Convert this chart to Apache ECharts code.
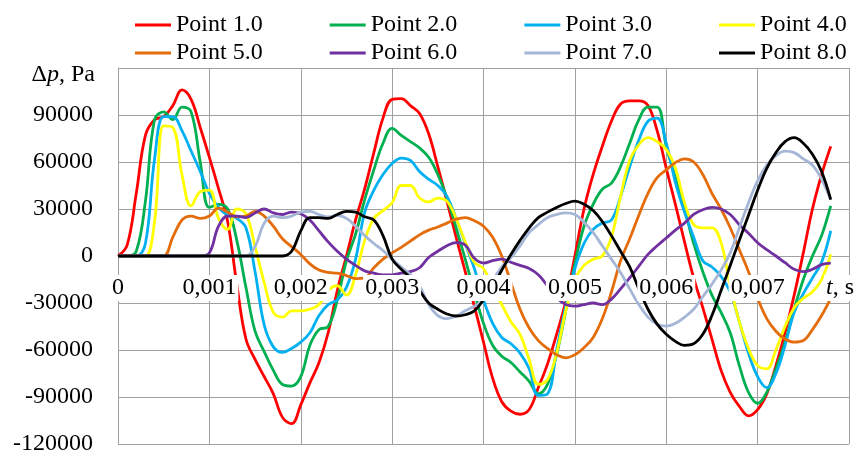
<!DOCTYPE html>
<html><head><meta charset="utf-8">
<script src="https://cdn.jsdelivr.net/npm/echarts@6/dist/echarts.min.js"></script>
<style>html,body{margin:0;padding:0;background:#fff}#c{width:856px;height:453px}</style>
</head><body><div id="c"></div>
<script>
const times = [0,0.0001,0.0002,0.0003,0.0004,0.0005,0.0006,0.0007,0.0008,0.0009,
0.0010,0.0011,0.0012,0.0013,0.0014,0.0015,0.0016,0.0017,0.0018,0.0019,
0.0020,0.0021,0.0022,0.0023,0.0024,0.0025,0.0026,0.0027,0.0028,0.0029,
0.0030,0.0031,0.0032,0.0033,0.0034,0.0035,0.0036,0.0037,0.0038,0.0039,
0.0040,0.0041,0.0042,0.0043,0.0044,0.0045,0.0046,0.0047,0.0048,0.0049,
0.0050,0.0051,0.0052,0.0053,0.0054,0.0055,0.0056,0.0057,0.0058,0.0059,
0.0060,0.0061,0.0062,0.0063,0.0064,0.0065,0.0066,0.0067,0.0068,0.0069,
0.0070,0.0071,0.0072,0.0073,0.0074,0.0075,0.0076,0.0077,0.0078];

const seriesNames = ['Point 1.0','Point 2.0','Point 3.0','Point 4.0','Point 5.0','Point 6.0','Point 7.0','Point 8.0'];

const point1 = [0,7000,40000,77000,87000,89000,96000,106000,100000,82000,
 63000,43000,22000,-18000,-53000,-66000,-77000,-88000,-103000,-107000,
 -95000,-81000,-68000,-49000,-22000,0,23000,43000,66000,88000,
 100000,100500,96000,91000,78000,57000,35000,12000,-10000,-32000,
 -55000,-78000,-93000,-99000,-101000,-98000,-84000,-69000,-50000,-29000,
 0,30000,52000,70000,86000,97000,99000,99000,96000,80000,
 56000,33000,9000,-14000,-33000,-53000,-73000,-87000,-96000,-102000,
 -98000,-88000,-70000,-49000,-25000,2000,30000,52000,70000];

const point2 = [0,0,3000,35000,87000,92000,87000,95000,92000,60000,
 31000,33000,30000,10000,-20000,-48000,-61000,-73000,-82000,-83000,
 -77000,-57000,-47000,-45000,-28000,-3000,14000,36000,55000,72000,
 81500,77000,73000,69000,63000,52000,37000,18000,-2000,-23000,
 -43000,-57000,-64000,-68000,-74000,-80000,-88000,-82000,-63000,-35000,
 -5000,19000,33000,42600,46500,57000,72000,87000,95000,95000,
 70000,50000,30000,8000,-10000,-25000,-36000,-49000,-70000,-87000,
 -94000,-87000,-72000,-55000,-34000,-15000,0,13000,32000];

const point3 = [0,0,0,8000,62000,89000,89000,80000,67000,54000,
 40000,31000,26000,24000,18000,-10000,-44000,-58000,-61500,-59000,
 -55000,-49000,-38000,-31000,-28000,-20000,-2000,28000,42000,52000,
 59000,62500,61000,54000,49000,45000,38000,24000,8000,-8000,
 -28000,-43000,-52000,-56000,-62000,-72000,-89000,-88000,-60000,-32000,
 -8000,8000,17000,21000,23000,38000,57000,74000,86000,88000,
 72000,47000,28000,12000,-3000,-7000,-13000,-23000,-42000,-62000,
 -77000,-84000,-75000,-57000,-36000,-24000,-14000,-4000,16000];

const point4 = [0,0,0,0,22000,83000,82000,52000,32000,41000,
 42000,24000,17000,30000,27000,6000,-17000,-36000,-39000,-35000,
 -35000,-34000,-31000,-22000,-19000,-25000,-12000,10000,24000,29000,
 34000,45000,45000,37000,34500,37000,35000,24000,9000,-4000,
 -8000,-20000,-31000,-42000,-50000,-66000,-82000,-79000,-62000,-35000,
 -15000,-6000,-2000,0,12000,38000,61000,71000,75500,73000,
 68000,56000,34000,20000,18000,18000,8500,-19000,-42000,-59000,
 -70000,-72000,-60000,-45000,-33000,-27000,-23000,-15000,1000];

const point5 = [0,0,0,0,0,0,12000,23000,25500,24000,
 25500,30500,28000,25000,25500,28500,25500,19000,11000,6000,
 1000,-5000,-9000,-10500,-11000,-12500,-14500,-14000,-7500,-2000,
 2000,5500,9500,13500,16500,18500,21000,23500,24500,22500,
 19000,12000,0,-17000,-34000,-46000,-54000,-59000,-63000,-65000,
 -63000,-58500,-52000,-40000,-23000,-3000,11000,26000,40000,50000,
 55000,59600,62000,60000,52000,40000,30000,18000,4000,-10000,
 -27000,-40000,-48000,-53000,-55000,-54000,-47000,-38000,-27000];

const point6 = [0,0,0,0,0,0,0,0,0,0,
 2000,19000,25500,25500,24500,27500,30000,27500,26500,28000,
 27000,23000,16000,9000,3000,-2000,-6000,-9500,-11000,-12000,
 -12000,-11000,-10000,-7500,-1000,3000,6500,8500,7000,-1500,
 -4500,-3000,-2000,-4000,-6000,-8000,-12000,-19000,-26500,-31000,
 -32000,-31000,-30000,-31000,-27500,-21000,-14000,-6500,1000,6500,
 11500,16500,21000,26500,29500,31000,30000,26500,20000,14500,
 8500,4000,0,-4300,-8500,-10000,-8500,-5500,-4500];

const point7 = [0,0,0,0,0,0,0,0,0,0,
 0,0,0,0,0,6000,21000,25500,24500,25500,
 28000,28500,26500,25000,26000,24000,19000,13000,8000,3500,
 -2000,-7000,-12000,-19000,-31000,-38000,-40000,-38500,-35000,-32000,
 -28000,-16000,-7000,-1000,6500,15000,20000,24500,26500,27500,
 26500,21500,15000,6500,-2000,-10500,-21000,-31000,-39000,-43500,
 -44700,-43000,-39000,-34000,-26000,-18000,-9000,2000,18000,34000,
 48000,58000,64000,67000,66000,62000,58000,49000,36000];

const point8 = [0,0,0,0,0,0,0,0,0,0,
 0,0,0,0,0,0,0,0,0,3000,
 16000,24500,24500,24000,26500,28500,28000,25000,23000,13000,
 -2000,-8500,-14000,-22000,-30000,-34000,-37000,-38300,-37500,-35000,
 -28000,-20000,-9000,1000,10000,18000,24500,28000,31000,33500,
 35000,33000,29000,22000,13000,3000,-7000,-21000,-34000,-43500,
 -50000,-54500,-57000,-56000,-50000,-38000,-22000,-6000,10000,26000,
 42000,56000,66000,73000,75500,72000,65000,54000,36000];

const xTicks = ['0','0,001','0,002','0,003','0,004','0,005','0,006','0,007'];
const yAxisTitle = 'Δ{i|p}, Pa';
const xAxisTitle = '{i|t}{n|, s}{sp|}';

const allValues = [point1,point2,point3,point4,point5,point6,point7,point8];
const colors = ['#FF0000','#00B050','#00B0F0','#FFFF00','#E46C0A','#7030A0','#A5B6D6','#000000'];
const FONT = 'Liberation Serif';

const chart = echarts.init(document.getElementById('c'), null, {renderer:'canvas'});

const series = allValues.map((vals, k) => ({
  name: seriesNames[k],
  type: 'line',
  xAxisIndex: 0,
  yAxisIndex: 0,
  data: times.map((t, i) => [t, vals[i]]),
  showSymbol: false,
  smooth: 0.4,
  color: colors[k],
  lineStyle: {width: 2.8, color: colors[k]},
  z: 2
}));

const legendCommon = {
  left: 130,
  icon: 'rect',
  itemWidth: 36,
  itemHeight: 3,
  itemGap: 67,
  textStyle: {fontFamily: FONT, fontSize: 24, color: '#000'},
  selectedMode: false
};

chart.setOption({
  animation: false,
  backgroundColor: '#fff',
  grid: {left: 118, right: 7, top: 68, bottom: 9, containLabel: false, outerBoundsMode: 'none'},
  legend: [
    Object.assign({}, legendCommon, {top: 8, data: seriesNames.slice(0, 4)}),
    Object.assign({}, legendCommon, {top: 36, data: seriesNames.slice(4, 8)})
  ],
  xAxis: [
    {
      type: 'value', min: 0, max: 0.008, interval: 0.001, position: 'bottom', z: 10, offset: 0,
      axisLine: {show: false, onZero: false},
      axisTick: {show: false},
      splitLine: {show: false},
      axisLabel: {
        margin: 19,
        fontFamily: FONT, fontSize: 24, color: '#000',
        backgroundColor: '#fff', padding: [1, 2, 1, 2], lineHeight: 24,
        rich: {
          i: {fontFamily: FONT, fontSize: 24, fontStyle: 'italic', color: '#000', lineHeight: 24},
          n: {fontFamily: FONT, fontSize: 24, color: '#000', lineHeight: 24},
          sp: {width: 18, lineHeight: 24}
        },
        formatter: function (v) {
          const idx = Math.round(v / 0.001);
          if (idx < xTicks.length) return xTicks[idx];
          return xAxisTitle;
        }
      }
    },
    {
      type: 'value', min: 0, max: 0.008, interval: 0.001, position: 'top', z: 0,
      axisLine: {show: false, onZero: false},
      axisTick: {show: false},
      axisLabel: {show: false},
      splitLine: {show: true, lineStyle: {color: '#A0A0A0', width: 1}}
    }
  ],
  yAxis: {
    type: 'value', min: -120000, max: 120000, interval: 30000,
    axisLine: {show: true, onZero: false, lineStyle: {color: '#A0A0A0', width: 1}},
    axisTick: {show: false},
    splitLine: {show: true, lineStyle: {color: '#A0A0A0', width: 1}},
    axisLabel: {
      margin: 25, fontFamily: FONT, fontSize: 24, color: '#000', showMaxLabel: false,
      formatter: function (v) { return String(v); }
    },
    name: yAxisTitle,
    nameLocation: 'end',
    nameGap: -7,
    nameTextStyle: {
      fontFamily: FONT, fontSize: 24, color: '#000', align: 'right', verticalAlign: 'middle',
      padding: [0, 23, 0, 0],
      rich: {i: {fontFamily: FONT, fontSize: 24, fontStyle: 'italic', color: '#000'}}
    }
  },
  series: series
});

// move the labelled time axis up to the zero line, computed through the y scale
const yZeroPx = chart.convertToPixel({yAxisIndex: 0}, 0);
const yBottomPx = chart.convertToPixel({yAxisIndex: 0}, -120000);
chart.setOption({xAxis: [{offset: yZeroPx - yBottomPx}, {}]});
</script></body></html>
